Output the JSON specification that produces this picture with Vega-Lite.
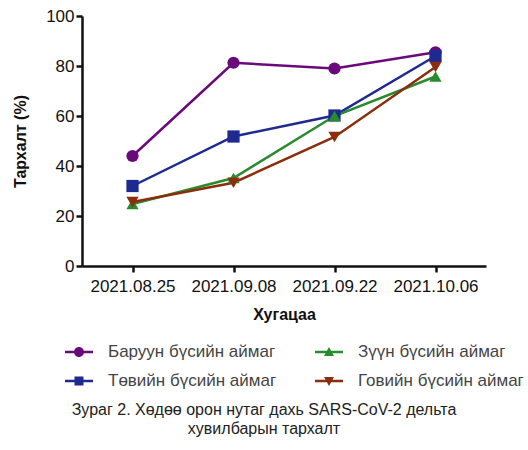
{
  "$schema": "https://vega.github.io/schema/vega-lite/v6.json",
  "width": 404,
  "height": 250,
  "autosize": {"type": "none"},
  "padding": {"left": 82, "top": 16, "right": 42, "bottom": 184},
  "background": "white",
  "config": {
    "view": {"stroke": null},
    "font": "Liberation Sans"
  },
  "title": {
    "text": ["Зураг 2. Хөдөө орон нутаг дахь SARS-CoV-2 дельта", "хувилбарын тархалт"],
    "orient": "bottom",
    "anchor": "middle",
    "dx": -20,
    "offset": 13,
    "fontSize": 16,
    "fontWeight": "normal",
    "color": "#222222",
    "lineHeight": 19,
    "font": "Liberation Sans"
  },
  "data": {
    "values": [
      {"date": "2021.08.25", "region": "Баруун бүсийн аймаг", "value": 44},
      {"date": "2021.09.08", "region": "Баруун бүсийн аймаг", "value": 81.3},
      {"date": "2021.09.22", "region": "Баруун бүсийн аймаг", "value": 79},
      {"date": "2021.10.06", "region": "Баруун бүсийн аймаг", "value": 85.5},
      {"date": "2021.08.25", "region": "Төвийн бүсийн аймаг", "value": 32},
      {"date": "2021.09.08", "region": "Төвийн бүсийн аймаг", "value": 51.8},
      {"date": "2021.09.22", "region": "Төвийн бүсийн аймаг", "value": 60.2},
      {"date": "2021.10.06", "region": "Төвийн бүсийн аймаг", "value": 84},
      {"date": "2021.08.25", "region": "Зүүн бүсийн аймаг", "value": 24.8},
      {"date": "2021.09.08", "region": "Зүүн бүсийн аймаг", "value": 35.2},
      {"date": "2021.09.22", "region": "Зүүн бүсийн аймаг", "value": 60},
      {"date": "2021.10.06", "region": "Зүүн бүсийн аймаг", "value": 75.8},
      {"date": "2021.08.25", "region": "Говийн бүсийн аймаг", "value": 25.6},
      {"date": "2021.09.08", "region": "Говийн бүсийн аймаг", "value": 33.3},
      {"date": "2021.09.22", "region": "Говийн бүсийн аймаг", "value": 51.6},
      {"date": "2021.10.06", "region": "Говийн бүсийн аймаг", "value": 79.6}
    ]
  },
  "encoding": {
    "x": {
      "field": "date",
      "type": "ordinal",
      "scale": {"type": "point", "padding": 0.5},
      "axis": {
        "title": "Хугацаа",
        "labelAngle": 0,
        "labelFontSize": 17,
        "labelColor": "#111111",
        "labelPadding": 6,
        "titleFontSize": 16,
        "titleFontWeight": "bold",
        "titleColor": "#111111",
        "titlePadding": 12,
        "domainColor": "#111111",
        "domainWidth": 2.5,
        "tickColor": "#111111",
        "tickWidth": 2.5,
        "tickSize": 6
      }
    },
    "y": {
      "field": "value",
      "type": "quantitative",
      "scale": {"domain": [0, 100], "nice": false},
      "axis": {
        "title": "Тархалт (%)",
        "values": [0, 20, 40, 60, 80, 100],
        "grid": false,
        "labelFontSize": 17,
        "labelColor": "#111111",
        "labelPadding": 2,
        "titleFontSize": 16,
        "titleFontWeight": "bold",
        "titleColor": "#111111",
        "titlePadding": 17,
        "domainColor": "#111111",
        "domainWidth": 2.5,
        "tickColor": "#111111",
        "tickWidth": 2.5,
        "tickSize": 6
      }
    }
  },
  "layer": [
    {
      "mark": {"type": "line", "strokeWidth": 2.5},
      "encoding": {
        "color": {
          "field": "region",
          "type": "nominal",
          "scale": {
            "domain": ["Баруун бүсийн аймаг", "Төвийн бүсийн аймаг", "Зүүн бүсийн аймаг", "Говийн бүсийн аймаг"],
            "range": ["#6a0a7a", "#1e2a90", "#2a8a2e", "#8a2e0e"]
          },
          "legend": null
        }
      }
    },
    {
      "mark": {"type": "point", "filled": true, "opacity": 1, "size": 150},
      "encoding": {
        "color": {
          "field": "region",
          "type": "nominal",
          "scale": {
            "domain": ["Баруун бүсийн аймаг", "Төвийн бүсийн аймаг", "Зүүн бүсийн аймаг", "Говийн бүсийн аймаг"],
            "range": ["#6a0a7a", "#1e2a90", "#2a8a2e", "#8a2e0e"]
          },
          "legend": null
        },
        "shape": {
          "field": "region",
          "type": "nominal",
          "scale": {
            "domain": ["Баруун бүсийн аймаг", "Төвийн бүсийн аймаг", "Зүүн бүсийн аймаг", "Говийн бүсийн аймаг"],
            "range": ["circle", "square", "triangle-up", "triangle-down"]
          },
          "legend": null
        }
      }
    },
    {
      "mark": {"type": "point", "filled": true, "opacity": 0},
      "encoding": {
        "color": {
          "field": "region",
          "type": "nominal",
          "scale": {
            "domain": ["Баруун бүсийн аймаг", "Төвийн бүсийн аймаг", "Зүүн бүсийн аймаг", "Говийн бүсийн аймаг"],
            "range": ["#6a0a7a", "#1e2a90", "#2a8a2e", "#8a2e0e"]
          },
          "legend": {
            "title": null,
            "orient": "none",
            "legendX": -13,
            "legendY": 326,
            "columns": 2,
            "columnPadding": 38,
            "rowPadding": 11,
            "symbolSize": 400,
            "symbolOpacity": 1,
            "symbolStrokeWidth": 0,
            "labelFontSize": 17,
            "labelColor": "#444444",
            "labelOffset": 19,
            "labelLimit": 300
          }
        },
        "shape": {
          "field": "region",
          "type": "nominal",
          "scale": {
            "domain": ["Баруун бүсийн аймаг", "Төвийн бүсийн аймаг", "Зүүн бүсийн аймаг", "Говийн бүсийн аймаг"],
            "range": [
              "M-1.4,-0.12H1.4V0.12H-1.4Z M0.5,0A0.5,0.5 0 1,1 -0.5,0A0.5,0.5 0 1,1 0.5,0Z",
              "M-1.4,-0.12H1.4V0.12H-1.4Z M-0.45,-0.45H0.45V0.45H-0.45Z",
              "M-1.4,-0.12H1.4V0.12H-1.4Z M0,-0.5L0.5,0.4H-0.5Z",
              "M-1.4,-0.12H1.4V0.12H-1.4Z M-0.5,-0.4H0.5L0,0.5Z"
            ]
          },
          "legend": {
            "title": null,
            "orient": "none",
            "legendX": -13,
            "legendY": 326,
            "columns": 2,
            "columnPadding": 38,
            "rowPadding": 11,
            "symbolSize": 400,
            "symbolOpacity": 1,
            "symbolStrokeWidth": 0,
            "labelFontSize": 17,
            "labelColor": "#444444",
            "labelOffset": 19,
            "labelLimit": 300
          }
        }
      }
    }
  ],
  "resolve": {
    "scale": {"shape": "independent", "color": "independent"},
    "legend": {"shape": "independent", "color": "independent"}
  }
}
